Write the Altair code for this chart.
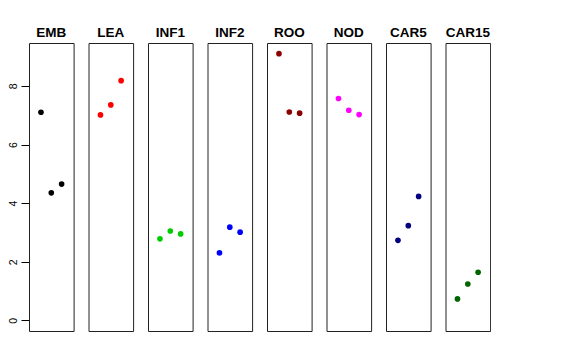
import altair as alt
import pandas as pd

groups = ["EMB", "LEA", "INF1", "INF2", "ROO", "NOD", "CAR5", "CAR15"]
colors = ["#000000", "#FF0000", "#00CD00", "#0000FF", "#8B0000", "#FF00FF", "#000080", "#006400"]
positions = [1, 2, 3]
values = {
    "EMB": [7.10, 4.35, 4.65],
    "LEA": [7.01, 7.35, 8.18],
    "INF1": [2.78, 3.05, 2.95],
    "INF2": [2.30, 3.18, 3.01],
    "ROO": [9.10, 7.11, 7.07],
    "NOD": [7.57, 7.17, 7.02],
    "CAR5": [2.73, 3.23, 4.23],
    "CAR15": [0.73, 1.24, 1.64],
}

rows = []
for g in groups:
    for p, v in zip(positions, values[g]):
        rows.append({"grp": g, "idx": p, "val": v})
df = pd.DataFrame(rows)

font = "Liberation Sans"

base = alt.Chart(df).mark_circle(size=32, opacity=1).encode(
    x=alt.X("idx:Q", scale=alt.Scale(domain=[-0.16, 4.16], nice=False, zero=False), axis=None),
    y=alt.Y(
        "val:Q",
        scale=alt.Scale(domain=[-0.364, 9.464], nice=False, zero=False),
        axis=alt.Axis(
            values=[0, 2, 4, 6, 8],
            title=None,
            grid=False,
            domain=False,
            tickSize=8,
            tickColor="black",
            labelAngle=-90,
            labelAlign="center",
            labelBaseline="bottom",
            labelPadding=3,
            labelFont=font,
            labelFontSize=10.5,
            labelColor="black",
        ),
    ),
    color=alt.Color("grp:N", scale=alt.Scale(domain=groups, range=colors), legend=None),
).properties(width=44.6, height=288)

chart = base.facet(
    column=alt.Column(
        "grp:N",
        sort=groups,
        header=alt.Header(
            title=None,
            labelFont=font,
            labelFontSize=13.5,
            labelFontWeight="bold",
            labelColor="black",
            labelOrient="top",
            labelPadding=4,
        ),
    ),
    spacing=14.5,
    bounds="flush",
).properties(
    padding={"left": 0, "top": 17, "right": 0, "bottom": 0}
).configure(background="white").configure_view(stroke="#222222", strokeWidth=1)

chart.save("out.html", embed_options={"renderer": "svg", "actions": False})
